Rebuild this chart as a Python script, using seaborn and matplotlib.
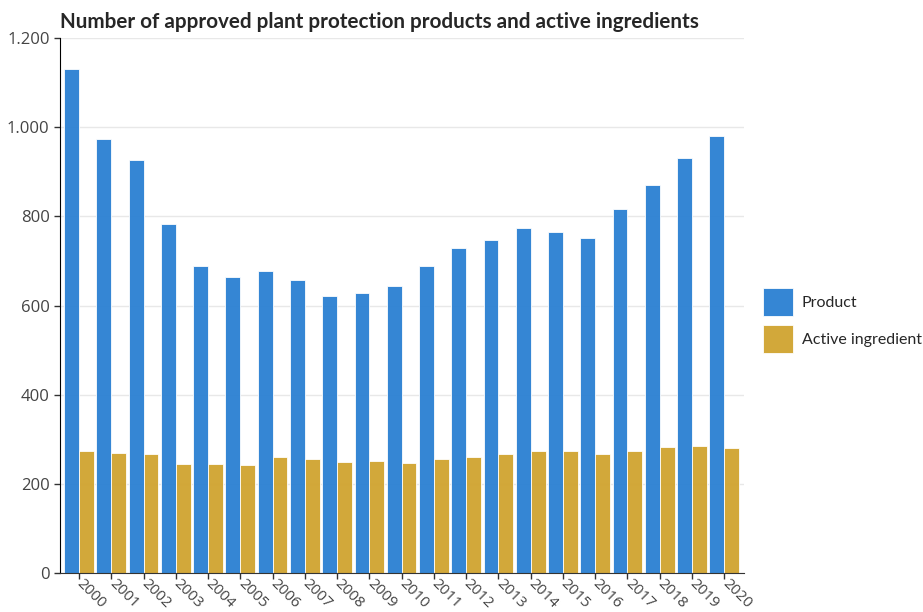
import pandas as pd
import matplotlib
matplotlib.use("Agg")
import matplotlib.pyplot as plt
import matplotlib.ticker as mticker
import seaborn as sns

# data
years = [str(y) for y in range(2000, 2021)]
products = [1130, 974, 927, 784, 688, 664, 677, 657, 622, 628, 644,
            690, 729, 747, 775, 765, 752, 817, 870, 931, 980]
active_ingredients = [274, 271, 267, 246, 246, 243, 261, 256, 250, 253, 247,
                      256, 260, 267, 274, 275, 268, 275, 283, 286, 281]
series_names = ["Product", "Active ingredient"]
colors = ["#2E82D3", "#D1A533"]

df = pd.DataFrame({
    "year": years * 2,
    "value": products + active_ingredients,
    "series": [series_names[0]] * len(years) + [series_names[1]] * len(years),
})

sns.set_style("white")
plt.rcParams["font.family"] = ["Open Sans", "DejaVu Sans"]

fig = plt.figure(figsize=(9.23, 6.12), dpi=100)
ax = fig.add_axes([0.065, 0.063, 0.741, 0.875])

sns.barplot(data=df, x="year", y="value", hue="series", palette=colors,
            width=0.92, edgecolor="white", linewidth=0.6, alpha=0.97,
            saturation=1, ax=ax)

ax.set_xlim(-0.59, 20.61)
ax.set_ylim(0, 1200)
ax.set_yticks(range(0, 1201, 200))
ax.yaxis.set_major_formatter(
    mticker.FuncFormatter(lambda v, p: f"{int(v):,}".replace(",", ".")))
ax.grid(axis="y", color="#e8e8e8", linewidth=1)
ax.set_axisbelow(True)
ax.set_xlabel("")
ax.set_ylabel("")

for side in ["top", "right"]:
    ax.spines[side].set_visible(False)
ax.spines["left"].set_color("black")
ax.spines["bottom"].set_color("#333333")
ax.tick_params(axis="both", which="major", length=4, width=1,
               color="#333333", labelcolor="#444444", labelsize=12,
               direction="out", bottom=True, left=True)
ax.tick_params(axis="x", pad=2)
plt.setp(ax.get_xticklabels(), rotation=-45, ha="left", va="center",
         rotation_mode="anchor", fontsize=11)

ax.set_title("Number of approved plant protection products and active ingredients",
             loc="left", fontsize=14.85, fontweight="bold", pad=7, x=0,
             family=["Lato", "DejaVu Sans"])

leg = ax.legend(title=None, frameon=False, loc="center left",
                bbox_to_anchor=(1.019, 0.472), borderaxespad=0,
                prop={"family": ["Lato", "DejaVu Sans"], "size": 11.5},
                handlelength=1.85, handleheight=2.3, labelspacing=0.6,
                handletextpad=0.55)

fig.savefig("out.png", dpi=100)
